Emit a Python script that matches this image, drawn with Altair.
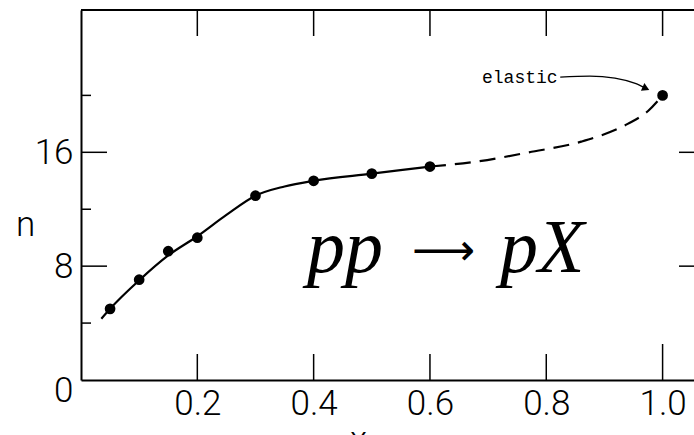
import altair as alt
import pandas as pd

# measured multiplicity n versus x
x_pts = [0.05, 0.10, 0.15, 0.20, 0.30, 0.40, 0.50, 0.60, 1.00]
n_pts = [5.0, 7.05, 9.05, 10.0, 12.95, 14.0, 14.5, 15.0, 20.0]

# solid curve drawn through the data
fit_x = [0.035, 0.05, 0.10, 0.15, 0.20, 0.25, 0.30, 0.35, 0.40, 0.50, 0.60]
fit_n = [4.3, 5.0, 7.0, 8.75, 10.1, 11.6, 12.95, 13.6, 14.0, 14.5, 15.0]

# dashed extrapolation up to the elastic point
ext_x = [0.60, 0.68, 0.77, 0.86, 0.94, 0.975, 1.00]
ext_n = [15.0, 15.35, 16.0, 16.75, 18.0, 18.9, 20.0]

# curved pointer from the "elastic" label
arr_x = [0.824, 0.875, 0.918, 0.953, 0.972]
arr_n = [21.29, 21.36, 21.22, 20.84, 20.48]
head_x = [0.9714]
head_n = [20.49]

label_x = [0.6895]
label_n = [20.87]

# reaction formula pieces
formula_txt = ["pp", "pX"]
formula_x = [0.3886, 0.7204]
formula_n = [7.59, 7.59]
arrow_txt = ["\u27f6"]
arrow_x = [0.6233]
arrow_n = [8.1]

x_ticks = [0.2, 0.4, 0.6, 0.8, 1.0]
x_ticks_short = [0.2, 0.4, 0.6, 0.8]
x_ticks_long = [1.0]
y_major = [8, 16]
y_minor = [4, 12, 20]
y_labels = [0, 8, 16]

W, H = 613, 370
SANS = "Roboto, Liberation Sans, sans-serif"
SERIF = "Liberation Serif, DejaVu Serif, serif"

xs = alt.Scale(domain=[0, 1.054], nice=False, zero=False)
ys = alt.Scale(domain=[0, 26], nice=False, zero=False)

pts = pd.DataFrame({"x": x_pts, "n": n_pts})
fit = pd.DataFrame({"x": fit_x, "n": fit_n})
ext = pd.DataFrame({"x": ext_x, "n": ext_n})
arr = pd.DataFrame({"x": arr_x, "n": arr_n})
head = pd.DataFrame({"x": head_x, "n": head_n})
lab = pd.DataFrame({"x": label_x, "n": label_n, "t": ["elastic"]})
form = pd.DataFrame({"x": formula_x, "n": formula_n, "t": formula_txt})
form_arrow = pd.DataFrame({"x": arrow_x, "n": arrow_n, "t": arrow_txt})

x_axis = alt.Axis(
    values=x_ticks, format=".1f", ticks=False, grid=False,
    domainColor="black", domainWidth=2,
    labelFont=SANS, labelFontSize=35, labelFontWeight=300, labelColor="black",
    labelPadding=6, labelFlush=False,
    title="x", titleX=277, titleY=70, titleBaseline="alphabetic",
    titleFont=SANS, titleFontSize=35, titleFontWeight=300, titleColor="black",
)
y_axis = alt.Axis(
    values=y_labels, format="d", ticks=False, grid=False,
    domainColor="black", domainWidth=2,
    labelFont=SANS, labelFontSize=35, labelFontWeight=300, labelColor="black",
    labelPadding=8,
    labelOffset=alt.condition("datum.value == 0", alt.value(10), alt.value(0)),
    title="n", titleAngle=0, titleX=-56, titleY=225, titleAlign="center",
    titleBaseline="alphabetic",
    titleFont=SANS, titleFontSize=35, titleFontWeight=300, titleColor="black",
)


def X(field="x"):
    return alt.X(f"{field}:Q", scale=xs)


def Y(field="n"):
    return alt.Y(f"{field}:Q", scale=ys)


points = alt.Chart(pts).mark_circle(size=115, color="black", opacity=1).encode(
    x=alt.X("x:Q", scale=xs, axis=x_axis),
    y=alt.Y("n:Q", scale=ys, axis=y_axis),
)

solid = alt.Chart(fit).mark_line(color="black", strokeWidth=2.2, interpolate="monotone").encode(
    x=X(), y=Y()
)
dashed = alt.Chart(ext).mark_line(
    color="black", strokeWidth=2.2, strokeDash=[16, 9], interpolate="monotone"
).encode(x=X(), y=Y())

pointer = alt.Chart(arr).mark_line(color="black", strokeWidth=1.3, interpolate="monotone").encode(
    x=X(), y=Y()
)
pointer_head = alt.Chart(head).mark_point(
    shape="triangle-right", size=70, filled=True, color="black", opacity=1, angle=24
).encode(x=X(), y=Y())

elastic = alt.Chart(lab).mark_text(
    font="Liberation Mono, DejaVu Sans Mono, monospace", fontSize=18, align="left",
    baseline="alphabetic", color="black"
).encode(x=X(), y=Y(), text="t:N")

formula = alt.Chart(form).mark_text(
    font=SERIF, fontSize=76, fontStyle="italic", align="left", baseline="alphabetic", color="black"
).encode(x=X(), y=Y(), text="t:N")
formula_arrow = alt.Chart(form_arrow).mark_text(
    font="DejaVu Sans, sans-serif", fontSize=44, align="center", baseline="alphabetic", color="black"
).encode(x=X(), y=Y(), text="t:N")

# frame: top border and inward-pointing ticks
top_line = alt.Chart(pd.DataFrame({"v": [0]})).mark_rule(color="black", strokeWidth=2).encode(
    x=alt.value(0), x2=alt.value(W), y=alt.value(0)
)
bx = alt.Chart(pd.DataFrame({"x": x_ticks_short})).mark_rule(color="black", strokeWidth=1.5).encode(
    x=X(), y=alt.value(H), y2=alt.value(H - 26)
)
bx_long = alt.Chart(pd.DataFrame({"x": x_ticks_long})).mark_rule(color="black", strokeWidth=1.5).encode(
    x=X(), y=alt.value(H), y2=alt.value(H - 36)
)
tx = alt.Chart(pd.DataFrame({"x": x_ticks})).mark_rule(color="black", strokeWidth=1.5).encode(
    x=X(), y=alt.value(0), y2=alt.value(26)
)
ly_major = alt.Chart(pd.DataFrame({"n": y_major})).mark_rule(color="black", strokeWidth=1.5).encode(
    y=Y(), x=alt.value(0), x2=alt.value(26)
)
ly_minor = alt.Chart(pd.DataFrame({"n": y_minor})).mark_rule(color="black", strokeWidth=1.5).encode(
    y=Y(), x=alt.value(0), x2=alt.value(10)
)
ry_major = alt.Chart(pd.DataFrame({"n": y_major})).mark_rule(color="black", strokeWidth=1.5).encode(
    y=Y(), x=alt.value(W - 15), x2=alt.value(W)
)

chart = alt.layer(
    points, top_line, bx, bx_long, tx, ly_major, ly_minor, ry_major,
    solid, dashed, pointer, pointer_head, elastic, formula, formula_arrow,
).properties(
    width=W, height=H,
    autosize=alt.AutoSizeParams(type="none"),
    padding={"left": 81, "top": 10, "right": 0, "bottom": 55},
    background="white",
).configure_view(stroke=None)

chart.save("out.html", embed_options={"renderer": "svg", "actions": False})
